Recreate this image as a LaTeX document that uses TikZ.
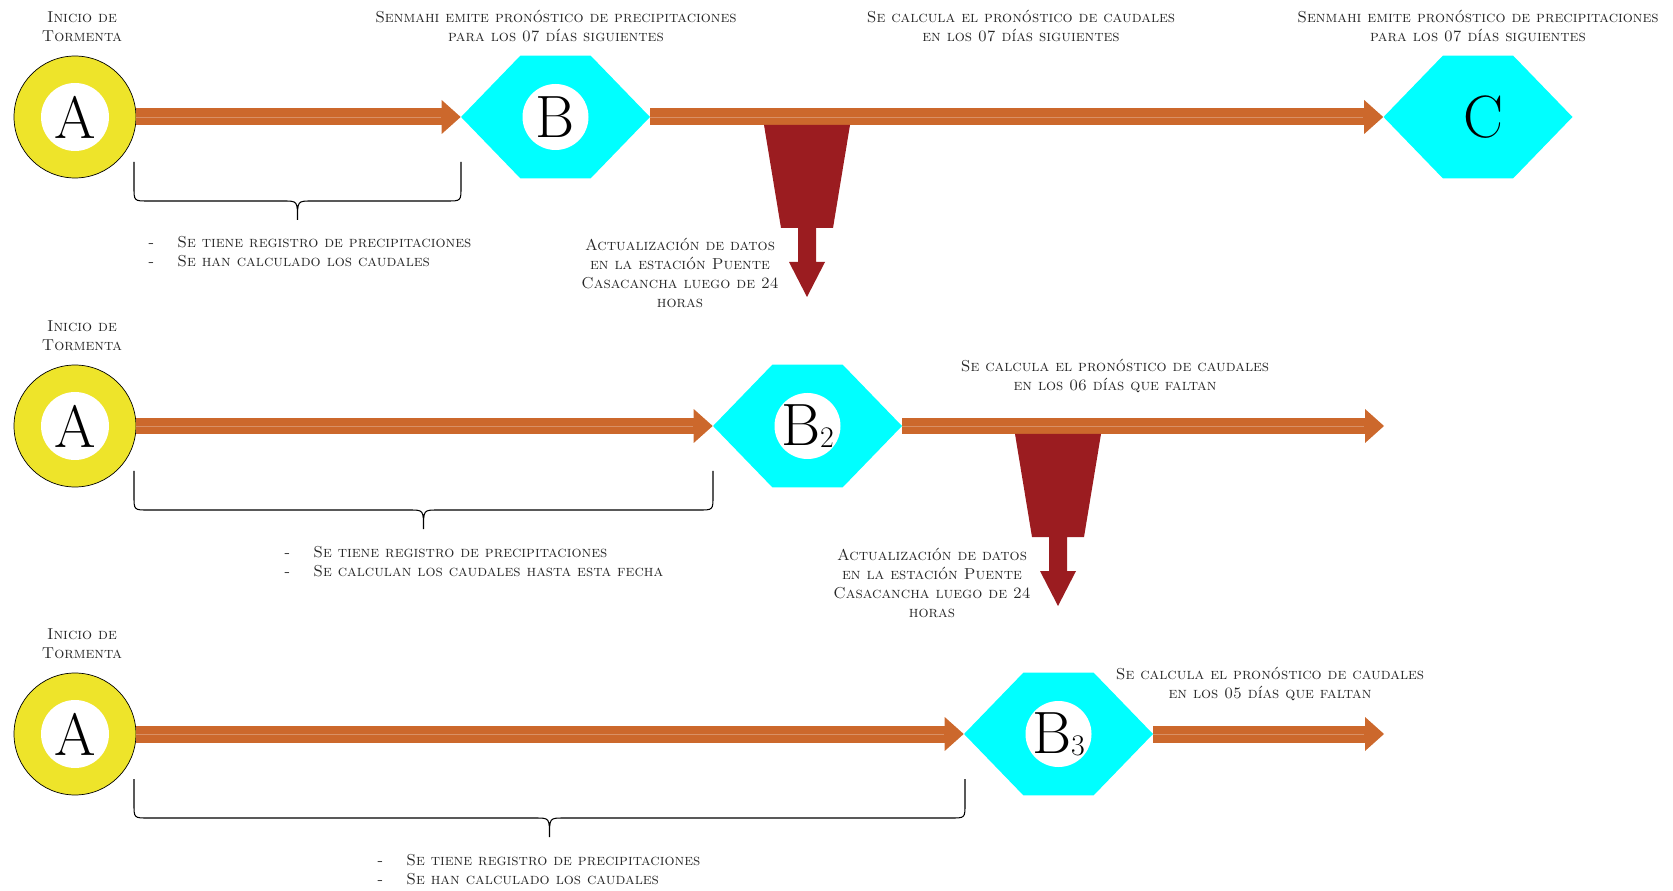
\documentclass[tikz,border=0pt]{standalone}
\usepackage{fontspec}
\usepackage{tikz}
\usetikzlibrary{arrows.meta,calc,positioning}

\definecolor{amarillo}{RGB}{238,228,42}
\definecolor{celeste}{RGB}{0,255,255}
\definecolor{naranja}{RGB}{204,104,44}
\definecolor{vino}{RGB}{155,28,32}

% hexagon with flat top and bottom, filled inside its own node
\newcommand\hexfondo{%
  \fill[celeste] (path picture bounding box.west)
    -- ($(path picture bounding box.north)+(-35,0)$)
    -- ($(path picture bounding box.north)+(35,0)$)
    -- (path picture bounding box.east)
    -- ($(path picture bounding box.south)+(35,0)$)
    -- ($(path picture bounding box.south)+(-35,0)$) -- cycle;}

\tikzset{
 inicio/.style={circle, draw=black, line width=0.4pt, fill=amarillo,
   minimum size=2.44cm, inner sep=0pt,
   path picture={\fill[white] (path picture bounding box.center) circle (34);},
   font=\fontsize{34}{34}\selectfont},
 hexa/.style={rectangle, minimum width=3.78cm, minimum height=2.46cm,
   inner sep=0pt, path picture={\hexfondo},
   font=\fontsize{34}{34}\selectfont},
 hexdot/.style={hexa, path picture={\hexfondo
   \fill[white] (path picture bounding box.center) circle (33);}},
 flecha/.style={draw=naranja, line width=0.34cm,
   -{Triangle[length=0.38cm,width=0.68cm,line width=0pt]},
   postaction={draw=naranja!55!white, line width=0.4pt, -,
     shorten >=0.4cm, opacity=0.6}},
 etiqueta/.style={font=\fontsize{9}{10.8}\selectfont\scshape,
   align=center, text=black!85, inner sep=0pt},
 lista/.style={etiqueta, align=left, anchor=west},
 llave/.style={draw=black, line width=0.6pt},
}

% curly bracket under a stretch of the time line
\newcommand\llave[3]{%
  \pgfmathsetmacro\xm{(#1+#2)/2}
  \draw[llave] (#1,#3+45) -- (#1,#3+70) .. controls (#1,#3+84) .. (#1+14,#3+84)
    -- (\xm-14,#3+84) .. controls (\xm,#3+84) .. (\xm,#3+103)
    .. controls (\xm,#3+84) .. (\xm+14,#3+84)
    -- (#2-14,#3+84) .. controls (#2,#3+84) .. (#2,#3+70) -- (#2,#3+45);}

% data update arrow hanging from the time line
\newcommand\bajada[2]{%
  \fill[vino] (#1-43,#2+8) -- (#1+43,#2+8) -- (#1+26,#2+111) -- (#1+9,#2+111)
    -- (#1+9,#2+145) -- (#1+18,#2+145) -- (#1,#2+180) -- (#1-18,#2+145)
    -- (#1-9,#2+145) -- (#1-9,#2+111) -- (#1-26,#2+111) -- cycle;}

\newcommand\guion{\makebox[0.58cm][l]{-}}
\newcommand\indice[1]{\raisebox{-1pt}{\fontsize{17}{17}\selectfont #1}}

\begin{document}
\begin{tikzpicture}[x=0.02cm,y=-0.02cm]
\useasboundingbox (0,0) rectangle (1673,891);

% first line: 07 days
\node[inicio] (a1) at (75,117) {A};
\node[hexdot] (b1) at (555.5,117) {B};
\node[hexa] (c1) at (1478,117) {\hspace{0.2cm}C};
\draw[flecha] (a1.east) -- (b1.west);
\draw[flecha] (b1.east) -- (c1.west);
\bajada{807}{117}
\llave{134}{461}{117}

\node[etiqueta] (t1) at (82,27) {Inicio de\\Tormenta};
\node[etiqueta] (s1) at (556,26) {Senmahi emite pronóstico de precipitaciones\\para los 07 días siguientes};
\node[etiqueta] (q1) at (1021,26) {Se calcula el pronóstico de caudales\\en los 07 días siguientes};
\node[etiqueta] (s2) at (1478,26) {Senmahi emite pronóstico de precipitaciones\\para los 07 días siguientes};
\node[etiqueta] (d1) at (680,273) {Actualización de datos\\en la estación Puente\\Casacancha luego de 24\\horas};
\node[lista] (l1) at (148,252) {\guion Se tiene registro de precipitaciones\\\guion Se han calculado los caudales};

% second line: 06 days
\node[inicio] (a2) at (75,426) {A};
\node[hexdot] (b2) at (807.5,426) {B\indice{2}};
\coordinate (f2) at (1384,426);
\draw[flecha] (a2.east) -- (b2.west);
\draw[flecha] (b2.east) -- (f2);
\bajada{1058}{426}
\llave{134}{713}{426}

\node[etiqueta] (t2) at (82,336) {Inicio de\\Tormenta};
\node[etiqueta] (q2) at (1115,376) {Se calcula el pronóstico de caudales\\en los 06 días que faltan};
\node[etiqueta] (d2) at (932,583) {Actualización de datos\\en la estación Puente\\Casacancha luego de 24\\horas};
\node[lista] (l2) at (284,562) {\guion Se tiene registro de precipitaciones\\\guion Se calculan los caudales hasta esta fecha};

% third line: 05 days
\node[inicio] (a3) at (75,734) {A};
\node[hexdot] (b3) at (1058.5,734) {B\indice{3}};
\coordinate (f3) at (1384,734);
\draw[flecha] (a3.east) -- (b3.west);
\draw[flecha] (b3.east) -- (f3);
\llave{134}{965}{734}

\node[etiqueta] (t3) at (82,644) {Inicio de\\Tormenta};
\node[etiqueta] (q3) at (1270,684) {Se calcula el pronóstico de caudales\\en los 05 días que faltan};
\node[lista] (l3) at (377,870) {\guion Se tiene registro de precipitaciones\\\guion Se han calculado los caudales};
\end{tikzpicture}
\end{document}
